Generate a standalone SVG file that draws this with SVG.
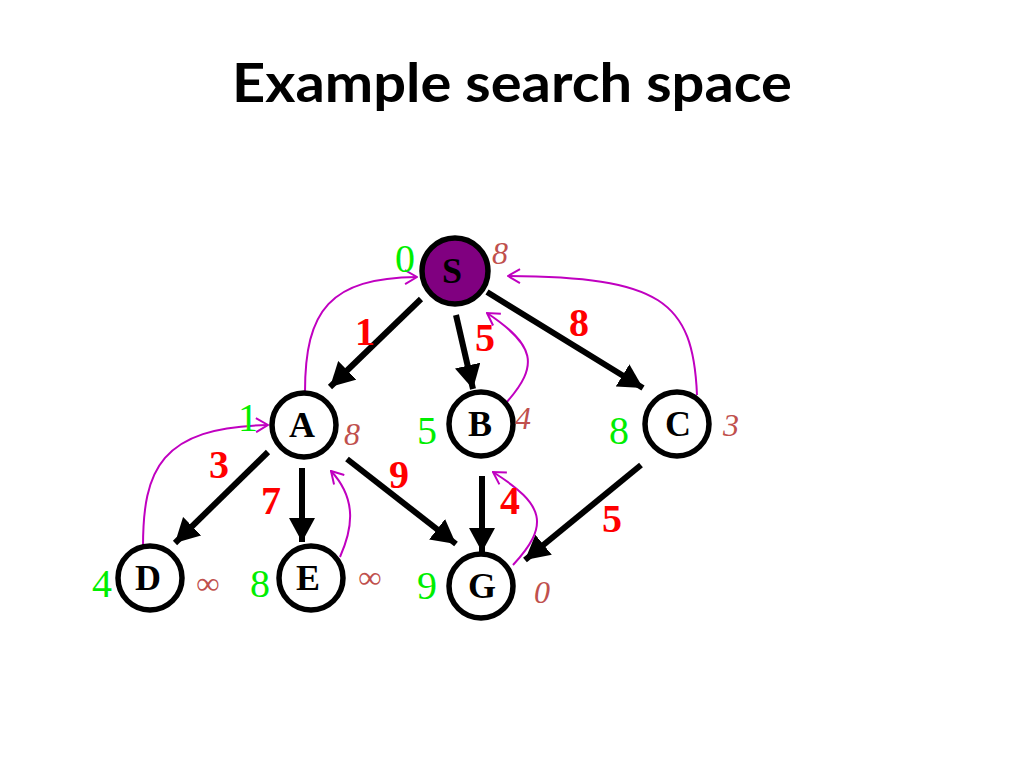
<svg xmlns="http://www.w3.org/2000/svg" width="1024" height="768" viewBox="0 0 1024 768">
<style>
.node{fill:#fff;stroke:#000;stroke-width:5.5}
.lbl{font-family:"Liberation Serif",serif;font-weight:bold;font-size:36px;text-anchor:middle;fill:#000}
.g{font-family:"Liberation Serif",serif;font-size:40px;text-anchor:middle;fill:#00ee00}
.w{font-family:"Liberation Serif",serif;font-weight:bold;font-size:40px;text-anchor:middle;fill:#ff0000}
.h{font-family:"Liberation Serif",serif;font-style:italic;font-size:32px;text-anchor:middle;fill:#c0504d}
.e{stroke:#000;stroke-width:6;fill:none;marker-end:url(#ah)}
.p{stroke:#c000c0;stroke-width:2;fill:none;marker-end:url(#oh)}
</style>
<defs>
<marker id="ah" markerUnits="userSpaceOnUse" viewBox="0 0 24 26" refX="24" refY="13" markerWidth="24" markerHeight="26" orient="auto">
<path d="M0,0 L24,13 L0,26 Z" fill="#000"/>
</marker>
<marker id="oh" markerUnits="userSpaceOnUse" viewBox="0 0 14 16" refX="13" refY="8" markerWidth="14" markerHeight="16" orient="auto">
<path d="M1,1 L13,8 L1,15" fill="none" stroke="#c000c0" stroke-width="2"/>
</marker>
</defs>
<rect width="1024" height="768" fill="#fff"/>
<text x="512" y="102" font-family="Lato,'Open Sans',sans-serif" font-weight="bold" font-size="54" text-anchor="middle" textLength="560" lengthAdjust="spacingAndGlyphs" fill="#000">Example search space</text>
<g id="connectors">
<line class="e" x1="421" y1="299" x2="330" y2="387"/>
<line class="e" x1="456" y1="315" x2="473" y2="389"/>
<line class="e" x1="487" y1="292" x2="643" y2="388"/>
<line class="e" x1="268" y1="452" x2="175" y2="543"/>
<line class="e" x1="302" y1="468" x2="302" y2="542"/>
<line class="e" x1="347" y1="459" x2="456" y2="544"/>
<line class="e" x1="482" y1="476" x2="482" y2="552"/>
<line class="e" x1="641" y1="465" x2="525" y2="560"/>
<path class="p" d="M305,392 C305,310 330,278 417,277"/>
<path class="p" d="M143,547 C143,470 160,427 268,425"/>
<path class="p" d="M340,557 C352,530 358,500 331,471"/>
<path class="p" d="M506,403 C540,365 535,345 487,313"/>
<path class="p" d="M697,395 C693,300 660,277 508,276"/>
<path class="p" d="M513,565 C550,525 545,505 493,472"/>
<text class="w" x="365" y="345">1</text>
<text class="w" x="485" y="351">5</text>
<text class="w" x="579" y="336">8</text>
<text class="w" x="219" y="478">3</text>
<text class="w" x="271" y="514">7</text>
<text class="w" x="399" y="488">9</text>
<text class="w" x="510" y="514">4</text>
<text class="w" x="612" y="532">5</text>
</g>
<g id="S">
<circle cx="455" cy="271" r="33" fill="#800080" stroke="#000" stroke-width="5.5"/>
<text class="lbl" x="452" y="283">S</text>
<text class="g" x="405" y="272">0</text>
<text class="h" x="500" y="264">8</text>
</g>
<g id="A">
<circle class="node" cx="304" cy="425" r="32"/>
<text class="lbl" x="302" y="437">A</text>
<text class="g" x="248" y="431">1</text>
<text class="h" x="352" y="445">8</text>
</g>
<g id="B">
<circle class="node" cx="481" cy="424" r="32"/>
<text class="lbl" x="480" y="436">B</text>
<text class="g" x="427" y="444">5</text>
<text class="h" x="523" y="429">4</text>
</g>
<g id="C">
<circle class="node" cx="677" cy="424" r="32"/>
<text class="lbl" x="678" y="436">C</text>
<text class="g" x="619" y="444">8</text>
<text class="h" x="731" y="436">3</text>
</g>
<g id="D">
<circle class="node" cx="150" cy="578" r="32"/>
<text class="lbl" x="148" y="590">D</text>
<text class="g" x="102" y="597">4</text>
<text class="h" x="208" y="594">∞</text>
</g>
<g id="E">
<circle class="node" cx="311" cy="578" r="32"/>
<text class="lbl" x="308" y="590">E</text>
<text class="g" x="260" y="597">8</text>
<text class="h" x="370" y="588">∞</text>
</g>
<g id="G">
<circle class="node" cx="481" cy="586" r="32"/>
<text class="lbl" x="482" y="598">G</text>
<text class="g" x="427" y="599">9</text>
<text class="h" x="542" y="603">0</text>
</g>
</svg>
